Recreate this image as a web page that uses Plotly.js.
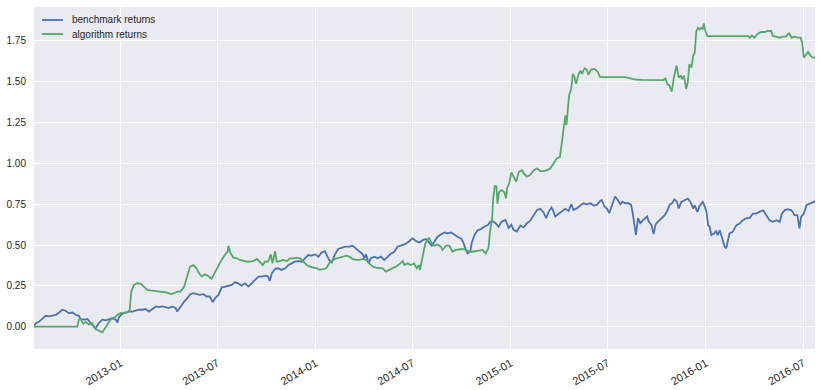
<!DOCTYPE html>
<html>
<head>
<meta charset="utf-8">
<script src="https://cdn.plot.ly/plotly-3.0.1.min.js"></script>
<style>html,body{margin:0;padding:0;background:#fff;}#chart{width:822px;height:390px;}</style>
</head>
<body>
<div id="chart"></div>
<script>
const benchmarkDates = [
"2012-07-23","2012-07-26","2012-08-01","2012-08-08","2012-08-14","2012-08-20","2012-08-26","2012-09-02","2012-09-08","2012-09-14",
"2012-09-20","2012-09-26","2012-10-03","2012-10-09","2012-10-15","2012-10-18","2012-10-25","2012-10-31","2012-11-06","2012-11-12",
"2012-11-15","2012-11-22","2012-11-28","2012-12-04","2012-12-10","2012-12-17","2012-12-23","2012-12-26","2012-12-29","2013-01-04",
"2013-01-10","2013-01-17","2013-01-23","2013-01-29","2013-02-04","2013-02-11","2013-02-17","2013-02-23","2013-03-01","2013-03-08",
"2013-03-14","2013-03-20","2013-03-26","2013-04-01","2013-04-08","2013-04-14","2013-04-17","2013-04-23","2013-04-30","2013-05-06",
"2013-05-11","2013-05-17","2013-05-23","2013-05-29","2013-06-05","2013-06-11","2013-06-17","2013-06-22","2013-06-27","2013-07-03",
"2013-07-09","2013-07-15","2013-07-22","2013-07-28","2013-08-03","2013-08-09","2013-08-15","2013-08-22","2013-08-28","2013-09-03",
"2013-09-09","2013-09-16","2013-09-22","2013-09-28","2013-10-04","2013-10-07","2013-10-11","2013-10-17","2013-10-23","2013-10-29",
"2013-11-05","2013-11-11","2013-11-17","2013-11-23","2013-11-29","2013-12-06","2013-12-12","2013-12-18","2013-12-24","2013-12-31",
"2014-01-06","2014-01-12","2014-01-18","2014-01-21","2014-01-26","2014-01-31","2014-02-06","2014-02-12","2014-02-19","2014-02-25",
"2014-03-05","2014-03-11","2014-03-17","2014-03-24","2014-03-30","2014-04-02","2014-04-05","2014-04-10","2014-04-14","2014-04-21",
"2014-04-27","2014-05-03","2014-05-09","2014-05-16","2014-05-22","2014-05-28","2014-06-03","2014-06-09","2014-06-16","2014-06-22",
"2014-06-28","2014-07-01","2014-07-08","2014-07-14","2014-07-20","2014-07-26","2014-08-01","2014-08-06","2014-08-11","2014-08-17",
"2014-08-23","2014-08-30","2014-09-05","2014-09-11","2014-09-17","2014-09-23","2014-09-30","2014-10-04","2014-10-08","2014-10-12",
"2014-10-17","2014-10-20","2014-10-25","2014-10-31","2014-11-06","2014-11-12","2014-11-19","2014-11-23","2014-11-28","2014-12-04",
"2014-12-09","2014-12-15","2014-12-22","2014-12-28","2015-01-02","2015-01-06","2015-01-12","2015-01-19","2015-01-25","2015-01-31",
"2015-02-06","2015-02-13","2015-02-19","2015-02-25","2015-03-03","2015-03-08","2015-03-13","2015-03-18","2015-03-22","2015-03-25",
"2015-03-31","2015-04-07","2015-04-13","2015-04-19","2015-04-24","2015-04-28","2015-05-05","2015-05-11","2015-05-17","2015-05-23",
"2015-05-30","2015-06-05","2015-06-11","2015-06-17","2015-06-20","2015-06-25","2015-06-30","2015-07-04","2015-07-09","2015-07-15",
"2015-07-20","2015-07-25","2015-07-29","2015-08-03","2015-08-09","2015-08-14","2015-08-17","2015-08-21","2015-08-23","2015-08-27",
"2015-08-31","2015-09-06","2015-09-13","2015-09-16","2015-09-21","2015-09-25","2015-09-29","2015-10-03","2015-10-09","2015-10-16",
"2015-10-21","2015-10-25","2015-10-29","2015-11-03","2015-11-08","2015-11-11","2015-11-16","2015-11-22","2015-11-28","2015-12-03",
"2015-12-08","2015-12-11","2015-12-16","2015-12-20","2015-12-26","2015-12-29","2016-01-02","2016-01-05","2016-01-08","2016-01-11",
"2016-01-16","2016-01-20","2016-01-23","2016-01-27","2016-01-30","2016-02-02","2016-02-05","2016-02-08","2016-02-11","2016-02-14",
"2016-02-20","2016-02-27","2016-03-04","2016-03-10","2016-03-16","2016-03-23","2016-03-29","2016-04-04","2016-04-10","2016-04-17",
"2016-04-23","2016-04-29","2016-05-05","2016-05-12","2016-05-18","2016-05-22","2016-05-27","2016-06-02","2016-06-09","2016-06-15",
"2016-06-20","2016-06-24","2016-06-27","2016-07-02","2016-07-07","2016-07-13","2016-07-19","2016-07-23"
];
const benchmarkValues = [
0.00,0.02,0.03,0.05,0.067,0.063,0.067,0.073,0.087,0.104,
0.098,0.083,0.087,0.073,0.067,0.047,0.043,0.047,0.022,0.00,
-0.01,0.026,0.043,0.039,0.047,0.053,0.043,0.026,0.059,0.079,
0.087,0.093,0.093,0.098,0.104,0.104,0.108,0.093,0.108,0.124,
0.12,0.124,0.12,0.114,0.124,0.114,0.093,0.124,0.154,0.175,
0.199,0.205,0.199,0.195,0.199,0.185,0.185,0.15,0.175,0.195,
0.24,0.246,0.252,0.256,0.272,0.266,0.252,0.266,0.246,0.266,
0.287,0.307,0.307,0.313,0.307,0.28,0.327,0.354,0.358,0.348,
0.358,0.378,0.388,0.398,0.402,0.398,0.419,0.439,0.435,0.443,
0.429,0.455,0.463,0.443,0.409,0.394,0.443,0.476,0.484,0.49,
0.49,0.496,0.48,0.46,0.443,0.419,0.443,0.388,0.419,0.429,
0.419,0.429,0.409,0.429,0.449,0.459,0.49,0.496,0.504,0.516,
0.53,0.541,0.524,0.516,0.53,0.537,0.516,0.496,0.52,0.551,
0.565,0.577,0.571,0.577,0.565,0.551,0.541,0.516,0.48,0.449,
0.459,0.516,0.561,0.591,0.598,0.612,0.622,0.642,0.646,0.632,
0.612,0.644,0.654,0.604,0.624,0.593,0.583,0.62,0.608,0.634,
0.648,0.689,0.715,0.722,0.701,0.665,0.705,0.73,0.705,0.675,
0.689,0.705,0.722,0.709,0.75,0.715,0.726,0.742,0.756,0.75,
0.756,0.742,0.746,0.77,0.776,0.736,0.722,0.695,0.746,0.797,
0.776,0.75,0.766,0.756,0.756,0.746,0.695,0.604,0.563,0.665,
0.634,0.654,0.675,0.644,0.624,0.567,0.628,0.642,0.663,0.683,
0.713,0.748,0.754,0.78,0.764,0.724,0.764,0.774,0.785,0.764,
0.724,0.744,0.703,0.74,0.764,0.744,0.703,0.622,0.612,0.561,
0.571,0.585,0.561,0.59,0.561,0.52,0.49,0.48,0.52,0.571,
0.581,0.622,0.632,0.652,0.663,0.667,0.693,0.693,0.703,0.713,
0.683,0.652,0.642,0.652,0.642,0.693,0.713,0.72,0.713,0.683,
0.683,0.602,0.673,0.693,0.744,0.754,0.764,0.768
];

const algorithmDates = [
"2012-07-23","2012-10-12","2012-10-15","2012-10-18","2012-10-23","2012-10-28","2012-11-03","2012-11-09","2012-11-15","2012-11-22",
"2012-11-28","2012-12-01","2012-12-07","2012-12-13","2012-12-20","2012-12-26","2013-01-01","2013-01-07","2013-01-14","2013-01-18",
"2013-01-21","2013-01-26","2013-02-01","2013-02-08","2013-02-14","2013-02-20","2013-02-26","2013-03-04","2013-03-17","2013-03-29",
"2013-04-05","2013-04-11","2013-04-17","2013-04-23","2013-04-30","2013-05-06","2013-05-09","2013-05-11","2013-05-17","2013-05-23",
"2013-05-28","2013-06-02","2013-06-08","2013-06-14","2013-06-20","2013-06-27","2013-07-03","2013-07-09","2013-07-15","2013-07-20",
"2013-07-22","2013-07-25","2013-07-31","2013-08-06","2013-08-12","2013-08-19","2013-08-25","2013-08-31","2013-09-06","2013-09-13",
"2013-09-19","2013-09-24","2013-09-28","2013-10-04","2013-10-09","2013-10-12","2013-10-17","2013-10-20","2013-10-26","2013-11-01",
"2013-11-08","2013-11-14","2013-11-20","2013-11-26","2013-12-03","2013-12-09","2013-12-15","2013-12-21","2013-12-28","2014-01-03",
"2014-01-09","2014-01-15","2014-01-21","2014-01-28","2014-02-03","2014-02-09","2014-02-15","2014-02-22","2014-02-27","2014-03-05",
"2014-03-11","2014-03-17","2014-03-24","2014-03-30","2014-04-05","2014-04-11","2014-04-18","2014-04-24","2014-04-30","2014-05-06",
"2014-05-12","2014-05-19","2014-05-25","2014-05-31","2014-06-06","2014-06-13","2014-06-16","2014-06-22","2014-06-28","2014-07-04",
"2014-07-09","2014-07-13","2014-07-15","2014-07-20","2014-07-25","2014-07-29","2014-08-01","2014-08-05","2014-08-11","2014-08-17",
"2014-08-23","2014-08-26","2014-09-02","2014-09-08","2014-09-14","2014-09-20","2014-09-27","2014-10-03","2014-10-09","2014-10-15",
"2014-10-21","2014-10-28","2014-11-03","2014-11-09","2014-11-15","2014-11-20","2014-11-23","2014-11-27","2014-11-29","2014-12-02",
"2014-12-05","2014-12-07","2014-12-10","2014-12-15","2014-12-20","2014-12-23","2014-12-25","2014-12-29","2015-01-02","2015-01-06",
"2015-01-11","2015-01-16","2015-01-22","2015-01-25","2015-01-31","2015-02-06","2015-02-13","2015-02-19","2015-02-25","2015-03-03",
"2015-03-10","2015-03-16","2015-03-22","2015-03-28","2015-04-03","2015-04-07","2015-04-10","2015-04-13","2015-04-15","2015-04-18",
"2015-04-20","2015-04-24","2015-04-27","2015-04-30","2015-05-03","2015-05-07","2015-05-11","2015-05-14","2015-05-19","2015-05-23",
"2015-05-26","2015-05-31","2015-06-07","2015-06-13","2015-06-17","2015-08-03","2015-08-12","2015-08-22","2015-09-03","2015-10-03",
"2015-10-13","2015-10-17","2015-10-21","2015-10-25","2015-10-29","2015-11-02","2015-11-07","2015-11-11","2015-11-15","2015-11-17",
"2015-11-21","2015-11-25","2015-11-28","2015-12-01","2015-12-05","2015-12-08","2015-12-11","2015-12-14","2015-12-17","2015-12-20",
"2015-12-23","2015-12-26","2015-12-28","2015-12-31","2016-01-04","2016-03-20","2016-03-23","2016-03-27","2016-04-01","2016-04-06",
"2016-04-13","2016-04-20","2016-04-26","2016-05-02","2016-05-05","2016-05-12","2016-05-18","2016-05-24","2016-05-30","2016-06-02",
"2016-06-05","2016-06-09","2016-06-15","2016-06-21","2016-06-26","2016-06-29","2016-07-02","2016-07-07","2016-07-10","2016-07-15",
"2016-07-19","2016-07-23"
];
const algorithmValues = [
0.00,0.00,0.043,0.047,0.018,0.03,0.012,0.022,-0.014,-0.028,
-0.035,-0.018,0.012,0.043,0.053,0.073,0.083,0.083,0.087,0.104,
0.215,0.256,0.266,0.262,0.246,0.226,0.222,0.22,0.215,0.209,
0.2,0.205,0.215,0.215,0.246,0.317,0.358,0.368,0.378,0.358,
0.327,0.307,0.321,0.31,0.293,0.337,0.378,0.409,0.439,0.459,
0.496,0.455,0.423,0.419,0.409,0.402,0.398,0.398,0.402,0.415,
0.398,0.378,0.398,0.398,0.443,0.388,0.463,0.398,0.402,0.409,
0.402,0.419,0.419,0.423,0.419,0.398,0.378,0.368,0.362,0.358,
0.348,0.352,0.358,0.398,0.409,0.419,0.423,0.429,0.435,0.429,
0.415,0.409,0.409,0.415,0.409,0.388,0.368,0.362,0.362,0.358,
0.337,0.348,0.362,0.368,0.382,0.402,0.378,0.388,0.378,0.388,
0.358,0.378,0.348,0.439,0.51,0.53,0.545,0.516,0.496,0.504,
0.49,0.47,0.496,0.496,0.459,0.47,0.474,0.476,0.47,0.459,
0.459,0.463,0.463,0.47,0.449,0.48,0.581,0.663,0.785,0.862,
0.86,0.754,0.825,0.837,0.823,0.787,0.848,0.878,0.945,0.919,
0.888,0.949,0.959,0.939,0.919,0.929,0.959,0.97,0.953,0.953,
0.959,0.97,1.0,1.03,1.04,1.152,1.244,1.295,1.234,1.335,
1.417,1.457,1.549,1.529,1.488,1.539,1.569,1.549,1.583,1.575,
1.543,1.575,1.579,1.559,1.529,1.529,1.522,1.514,1.512,1.51,
1.51,1.52,1.486,1.476,1.439,1.526,1.598,1.526,1.54,1.516,
1.537,1.455,1.496,1.608,1.587,1.658,1.679,1.811,1.831,1.821,
1.831,1.821,1.858,1.811,1.78,1.78,1.77,1.784,1.77,1.791,
1.805,1.805,1.811,1.811,1.78,1.776,1.77,1.776,1.776,1.791,
1.797,1.77,1.776,1.77,1.77,1.74,1.648,1.669,1.683,1.659,
1.648,1.648
];

const xTickDates = ["2013-01-01","2013-07-01","2014-01-01","2014-07-01","2015-01-01","2015-07-01","2016-01-01","2016-07-01"];
const xTickLabels = ["2013-01","2013-07","2014-01","2014-07","2015-01","2015-07","2016-01","2016-07"];
const yTickValues = [0, 0.25, 0.5, 0.75, 1.0, 1.25, 1.5, 1.75];
const seriesNames = ["benchmark returns", "algorithm returns"];
const seriesColors = ["#4C72B0", "#55A868"];

const FONT = "Liberation Sans, Arial, Helvetica, sans-serif";
const W = 822, H = 390, M = {l: 34, r: 7, t: 7, b: 41};
const PW = W - M.l - M.r, PH = H - M.t - M.b;
const px = v => (v - M.l) / PW;      // page x pixel -> paper fraction
const py = v => 1 - (v - M.t) / PH;  // page y pixel -> paper fraction

const traces = [
  {x: benchmarkDates, y: benchmarkValues, name: seriesNames[0], type: "scatter", mode: "lines",
   line: {color: seriesColors[0], width: 1.8}},
  {x: algorithmDates, y: algorithmValues, name: seriesNames[1], type: "scatter", mode: "lines",
   line: {color: seriesColors[1], width: 1.8}}
];

// manual legend (matplotlib-like compact layout)
const legendShapes = [], legendAnn = [];
seriesNames.forEach((nm, i) => {
  const yy = 20 + i * 14;
  legendShapes.push({type: "line", xref: "paper", yref: "paper",
    x0: px(42), x1: px(63), y0: py(yy), y1: py(yy),
    line: {color: seriesColors[i], width: 1.8}});
  legendAnn.push({xref: "paper", yref: "paper", x: px(70), y: py(yy),
    xanchor: "left", yanchor: "middle", showarrow: false, text: nm,
    font: {family: FONT, size: 10, color: "#262626"}});
});

const layout = {
  width: W, height: H,
  margin: M,
  paper_bgcolor: "#ffffff",
  plot_bgcolor: "#EAEAF2",
  font: {family: FONT, size: 10, color: "#262626"},
  showlegend: false,
  shapes: legendShapes,
  annotations: legendAnn,
  xaxis: {type: "date", range: ["2012-07-23", "2016-07-23"],
          tickmode: "array", tickvals: xTickDates, ticktext: xTickLabels,
          tickangle: -30, showgrid: true, gridcolor: "#ffffff", gridwidth: 1,
          zeroline: false, showline: false, ticks: "", ticklabelstandoff: 5,
          tickfont: {family: FONT, size: 11, color: "#262626"}, automargin: false},
  yaxis: {range: [-0.1365, 1.958], tickmode: "array", tickvals: yTickValues,
          tickformat: ".2f", showgrid: true, gridcolor: "#ffffff", gridwidth: 1,
          zeroline: false, showline: false, ticks: "", ticklabelstandoff: 7,
          tickfont: {family: FONT, size: 10, color: "#262626"}, automargin: false}
};
Plotly.newPlot("chart", traces, layout, {staticPlot: true, displayModeBar: false});
</script>
</body>
</html>
